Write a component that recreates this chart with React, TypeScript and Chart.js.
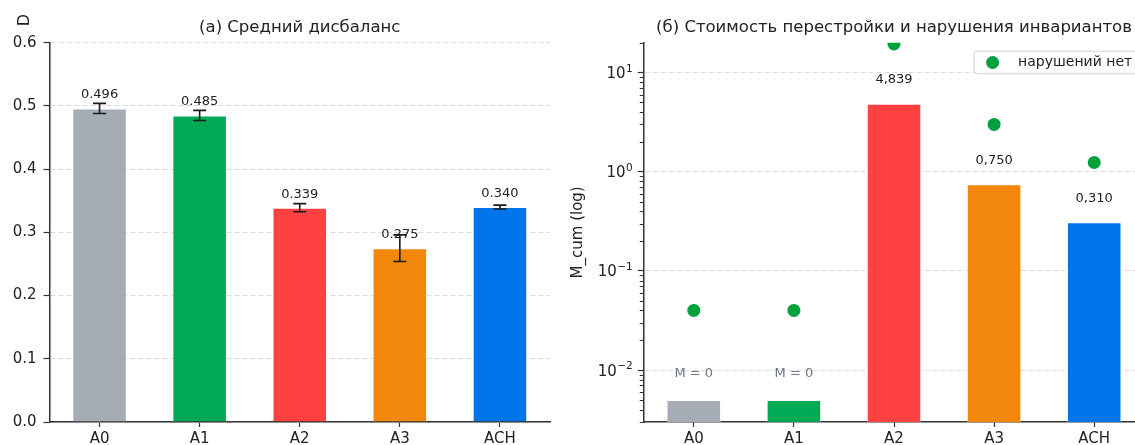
import React, { useEffect, useRef } from "react";
import { Chart, registerables } from "chart.js";

Chart.register(...registerables);

const FONT = "'DejaVu Sans', 'Noto Sans', sans-serif";

// ---- shared ----
const categories = ["A0", "A1", "A2", "A3", "ACH"];
const barColors = ["#A5ACB6", "#00AA55", "#FF4141", "#F3870C", "#0074EA"];

// ---- panel (a) ----
const leftTitle = "(а) Средний дисбаланс";
const leftYLabel = "D";
const meanImbalance = [0.496, 0.485, 0.339, 0.275, 0.34];
const imbalanceError = [0.008, 0.008, 0.0065, 0.021, 0.003];
const imbalanceTicks = [0, 0.1, 0.2, 0.3, 0.4, 0.5, 0.6];

// ---- panel (б) ----
const rightTitle = "(б) Стоимость перестройки и нарушения инвариантов";
const rightYLabel = "M_cum (log)";
const rebuildCost = [0.005, 0.005, 4.839, 0.75, 0.31];
const costLabels = ["M = 0", "M = 0", "4,839", "0,750", "0,310"];
const costIsZero = [true, true, false, false, false];
const noViolationMarkers = [0.04, 0.04, 19.4, 3.0, 1.24];
const markerLegend = "нарушений нет";
const logMajorTicks = [0.01, 0.1, 1, 10];
const logTickBase = "10";
const logTickExponents = ["−2", "−1", "0", "1"];
const logMin = 0.003;
const logMax = 20;

const TEXT = "#222222";
const SPINE = "#333333";
const GRID = "#dcdcdc";
const DOT = "#00A03C";

function isDecade(v: number) {
  const l = Math.log10(v);
  return Math.abs(l - Math.round(l)) < 1e-6;
}

function logAllTicks(): number[] {
  const out: number[] = [];
  for (let e = -3; e <= 1; e++) {
    for (let m = 1; m <= 9; m++) {
      const v = m * Math.pow(10, e);
      if (v >= logMin * 0.9999 && v <= logMax * 1.0001) out.push(v);
    }
  }
  return out;
}

function drawRotated(ctx: CanvasRenderingContext2D, text: string, x: number, y: number, size: number) {
  ctx.save();
  ctx.translate(x, y);
  ctx.rotate(-Math.PI / 2);
  ctx.font = `${size}px ${FONT}`;
  ctx.fillStyle = TEXT;
  ctx.textAlign = "center";
  ctx.textBaseline = "middle";
  ctx.fillText(text, 0, 0);
  ctx.restore();
}

function LeftChart() {
  const ref = useRef<HTMLCanvasElement | null>(null);
  useEffect(() => {
    const canvas = ref.current!;
    const overlay = {
      id: "leftOverlay",
      afterDatasetsDraw(chart: any) {
        const ctx = chart.ctx as CanvasRenderingContext2D;
        const y = chart.scales.y;
        const meta = chart.getDatasetMeta(0);
        ctx.save();
        meta.data.forEach((bar: any, i: number) => {
          const x = bar.x;
          ctx.fillStyle = TEXT;
          ctx.font = `13px ${FONT}`;
          ctx.textAlign = "center";
          ctx.textBaseline = "middle";
          ctx.fillText(meanImbalance[i].toFixed(3), x, bar.y - 13.5);
          const top = y.getPixelForValue(meanImbalance[i] + imbalanceError[i]);
          const bot = y.getPixelForValue(meanImbalance[i] - imbalanceError[i]);
          ctx.strokeStyle = "#1a1a1a";
          ctx.lineWidth = 1.6;
          ctx.beginPath();
          ctx.moveTo(x, top);
          ctx.lineTo(x, bot);
          ctx.moveTo(x - 6.5, top);
          ctx.lineTo(x + 6.5, top);
          ctx.moveTo(x - 6.5, bot);
          ctx.lineTo(x + 6.5, bot);
          ctx.stroke();
        });
        ctx.restore();
      },
      afterDraw(chart: any) {
        const ctx = chart.ctx as CanvasRenderingContext2D;
        const area = chart.chartArea;
        ctx.save();
        ctx.font = `16.5px ${FONT}`;
        ctx.fillStyle = TEXT;
        ctx.textAlign = "center";
        ctx.textBaseline = "middle";
        ctx.fillText(leftTitle, (area.left + area.right) / 2, 28);
        ctx.restore();
        drawRotated(ctx, leftYLabel, 25, 20, 16);
      },
    };
    const chart = new Chart(canvas, {
      type: "bar",
      data: {
        labels: categories,
        datasets: [
          {
            data: meanImbalance,
            backgroundColor: barColors,
            borderColor: "rgba(255,255,255,0.45)",
            borderWidth: 1,
            categoryPercentage: 1,
            barPercentage: 0.545,
          },
        ],
      },
      options: {
        responsive: false,
        animation: false,
        events: [],
        layout: { padding: { left: 0, right: 10, top: 42.7, bottom: 0 } },
        plugins: { legend: { display: false }, title: { display: false }, tooltip: { enabled: false } },
        scales: {
          x: {
            type: "category",
            grid: { offset: false, drawOnChartArea: false, drawTicks: true, tickLength: 5, tickColor: SPINE, tickWidth: 1.2 },
            border: { display: true, color: SPINE, width: 1.5 },
            ticks: { color: TEXT, font: { family: FONT, size: 15 }, padding: 3, maxRotation: 0 },
            afterFit: (s: any) => {
              s.height = 23;
            },
          },
          y: {
            type: "linear",
            min: 0,
            max: 0.6,
            afterBuildTicks: (s: any) => {
              s.ticks = imbalanceTicks.map((v) => ({ value: v }));
            },
            grid: { color: GRID, lineWidth: 1, drawTicks: true, tickLength: 6, tickColor: SPINE, tickWidth: 1.2 },
            border: { display: true, color: SPINE, width: 1.5, dash: [5, 3] },
            ticks: {
              color: TEXT,
              font: { family: FONT, size: 15 },
              padding: 7,
              autoSkip: false,
              callback: (v: any) => Number(v).toFixed(1),
            },
            afterFit: (s: any) => {
              s.width = 49.5;
            },
          },
        },
      },
      plugins: [overlay],
    } as any);
    return () => chart.destroy();
  }, []);
  return (
    <canvas
      ref={ref}
      width={560}
      height={445}
      style={{ position: "absolute", left: 0, top: 0, width: 560, height: 445 }}
    />
  );
}

function RightChart() {
  const ref = useRef<HTMLCanvasElement | null>(null);
  useEffect(() => {
    const canvas = ref.current!;
    const minorTicks = logAllTicks().filter((v) => !isDecade(v));
    const overlay = {
      id: "rightOverlay",
      afterDatasetsDraw(chart: any) {
        const ctx = chart.ctx as CanvasRenderingContext2D;
        const meta = chart.getDatasetMeta(0);
        ctx.save();
        meta.data.forEach((bar: any, i: number) => {
          ctx.font = `13px ${FONT}`;
          ctx.textAlign = "center";
          ctx.textBaseline = "middle";
          ctx.fillStyle = costIsZero[i] ? "#6B7785" : TEXT;
          ctx.fillText(costLabels[i], bar.x, bar.y - (costIsZero[i] ? 26 : 24));
        });
        ctx.restore();
      },
      afterDraw(chart: any) {
        const ctx = chart.ctx as CanvasRenderingContext2D;
        const area = chart.chartArea;
        const y = chart.scales.y;
        // minor ticks
        ctx.save();
        ctx.strokeStyle = SPINE;
        ctx.lineWidth = 1;
        ctx.beginPath();
        minorTicks.forEach((v) => {
          const py = Math.round(y.getPixelForValue(v)) + 0.5;
          ctx.moveTo(area.left - 4, py);
          ctx.lineTo(area.left, py);
        });
        ctx.stroke();
        ctx.restore();
        // decade labels (mathtext-like 10^n)
        ctx.save();
        ctx.fillStyle = TEXT;
        ctx.textAlign = "left";
        ctx.textBaseline = "alphabetic";
        logMajorTicks.forEach((v, i) => {
          const py = y.getPixelForValue(v);
          ctx.font = `10.5px ${FONT}`;
          const ew = ctx.measureText(logTickExponents[i]).width;
          ctx.font = `15px ${FONT}`;
          const bw = ctx.measureText(logTickBase).width;
          const right = area.left - 11;
          const x0 = right - ew - bw - 0.5;
          ctx.fillText(logTickBase, x0, py + 5.5);
          ctx.font = `10.5px ${FONT}`;
          ctx.fillText(logTickExponents[i], x0 + bw + 0.5, py - 1);
        });
        ctx.restore();
        // title
        ctx.save();
        ctx.font = `16.5px ${FONT}`;
        ctx.fillStyle = TEXT;
        ctx.textAlign = "center";
        ctx.textBaseline = "middle";
        ctx.fillText(rightTitle, (area.left + area.right) / 2, 28);
        ctx.restore();
        drawRotated(ctx, rightYLabel, 18, (area.top + area.bottom) / 2, 15);
        // legend
        const lx = 413.6;
        const ly = 50.7;
        const lh = 22.6;
        ctx.save();
        ctx.fillStyle = "rgba(255,255,255,0.85)";
        ctx.strokeStyle = "#cfcfcf";
        ctx.lineWidth = 1;
        ctx.beginPath();
        (ctx as any).roundRect(lx + 0.5, ly + 0.5, 260, lh, 3);
        ctx.fill();
        ctx.stroke();
        ctx.fillStyle = DOT;
        ctx.beginPath();
        ctx.arc(lx + 19, ly + lh / 2 + 0.5, 6.5, 0, Math.PI * 2);
        ctx.fill();
        ctx.fillStyle = TEXT;
        ctx.font = `14px ${FONT}`;
        ctx.textAlign = "left";
        ctx.textBaseline = "middle";
        ctx.fillText(markerLegend, lx + 44.5, ly + lh / 2 + 0.5);
        ctx.restore();
      },
    };
    const chart = new Chart(canvas, {
      type: "bar",
      data: {
        labels: categories,
        datasets: [
          {
            type: "bar",
            data: rebuildCost,
            backgroundColor: barColors,
            borderColor: "rgba(255,255,255,0.45)",
            borderWidth: 1,
            categoryPercentage: 1,
            barPercentage: 0.545,
            order: 2,
          },
          {
            type: "line",
            label: markerLegend,
            data: noViolationMarkers,
            showLine: false,
            pointRadius: 6.5,
            pointBackgroundColor: DOT,
            pointBorderWidth: 0,
            pointBorderColor: DOT,
            order: 1,
          },
        ],
      },
      options: {
        responsive: false,
        animation: false,
        events: [],
        layout: { padding: { left: 0, right: 15.75, top: 42.7, bottom: 0 } },
        plugins: { legend: { display: false }, title: { display: false }, tooltip: { enabled: false } },
        scales: {
          x: {
            type: "category",
            grid: { offset: false, drawOnChartArea: false, drawTicks: true, tickLength: 5, tickColor: SPINE, tickWidth: 1.2 },
            border: { display: true, color: SPINE, width: 1.5 },
            ticks: { color: TEXT, font: { family: FONT, size: 15 }, padding: 3, maxRotation: 0 },
            afterFit: (s: any) => {
              s.height = 23;
            },
          },
          y: {
            type: "logarithmic",
            min: logMin,
            max: logMax,
            afterBuildTicks: (s: any) => {
              s.ticks = logAllTicks().map((v) => ({ value: v }));
            },
            grid: {
              color: (c: any) => (c.tick && isDecade(c.tick.value) ? GRID : "rgba(0,0,0,0)"),
              tickColor: (c: any) => (c.tick && isDecade(c.tick.value) ? SPINE : "rgba(0,0,0,0)"),
              lineWidth: 1,
              drawTicks: true,
              tickLength: 6,
              tickWidth: 1.2,
            },
            border: { display: true, color: SPINE, width: 1.5, dash: [5, 3] },
            ticks: {
              color: TEXT,
              font: { family: FONT, size: 15 },
              padding: 5,
              autoSkip: false,
              callback: () => "",
            },
            afterFit: (s: any) => {
              s.width = 83.75;
            },
          },
        },
      },
      plugins: [overlay],
    } as any);
    return () => chart.destroy();
  }, []);
  return (
    <canvas
      ref={ref}
      width={600}
      height={445}
      style={{ position: "absolute", left: 560, top: 0, width: 600, height: 445 }}
    />
  );
}

export default function App() {
  return (
    <div
      style={{
        position: "fixed",
        left: 0,
        top: 0,
        width: 1135,
        height: 445,
        overflow: "hidden",
        background: "#ffffff",
      }}
    >
      <LeftChart />
      <RightChart />
    </div>
  );
}
